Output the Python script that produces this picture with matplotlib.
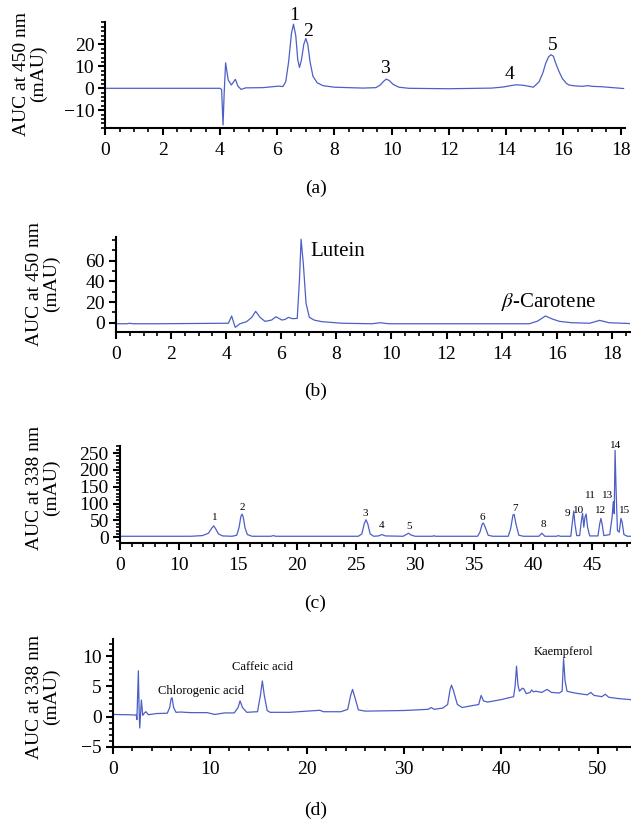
import matplotlib
matplotlib.use("Agg")
import matplotlib.pyplot as plt
from matplotlib.ticker import MultipleLocator

plt.rcParams['font.family'] = ['Liberation Serif', 'DejaVu Serif']
plt.rcParams['mathtext.fontset'] = 'stix'
plt.rcParams['axes.linewidth'] = 1.5

line_color = '#4d5fc6'

# (a) carotenoid chromatogram, 450 nm
a_time = [0, 2, 4.0, 4.06, 4.11, 4.15, 4.2, 4.29, 4.4, 4.54, 4.63, 4.74, 4.9, 5.5, 5.9, 6.05,
          6.2, 6.3, 6.4, 6.5, 6.57, 6.65, 6.72, 6.78, 6.85, 6.93, 7.0, 7.07, 7.15, 7.25, 7.4,
          7.6, 8.0, 9.0, 9.45, 9.6, 9.72, 9.81, 9.92, 10.05, 10.25, 10.6, 12.0, 13.5, 13.9,
          14.15, 14.35, 14.58, 14.8, 14.95, 15.15, 15.28, 15.38, 15.48, 15.56, 15.65, 15.73,
          15.85, 15.96, 16.1, 16.19, 16.4, 16.65, 16.86, 17.0, 17.35, 18.1]
a_signal = [0, 0, 0, -0.5, -16.7, -2, 11.6, 3.8, 1.5, 4.1, 1.0, -0.5, 0.2, 0.3, 0.8, 1.0,
            0.8, 3, 12, 25, 29.2, 24, 13, 9.5, 13, 20, 22.7, 20, 12, 5.5, 2.5,
            1.2, 0.5, 0.1, 0.3, 1.5, 3.2, 4.2, 3.5, 1.8, 0.5, 0, -0.2, 0.1, 0.6,
            1.2, 1.6, 1.4, 0.9, 0.5, 3, 7, 11.4, 14.3, 15.3, 14.6, 11.4,
            7.5, 4.5, 2.3, 1.5, 1.1, 0.9, 1.2, 0.9, 0.7, -0.1]
a_peaks = ['1', '2', '3', '4', '5']
a_peak_x = [6.59, 7.07, 9.76, 14.1, 15.64]
a_peak_y = [33.3, 25.7, 9.1, 6.5, 19.7]

# (b) lutein / beta-carotene, 450 nm
b_time = [0, 0.4, 0.5, 0.6, 1.5, 4.08, 4.2, 4.28, 4.33, 4.5, 4.74, 4.93, 5.07, 5.23, 5.41,
          5.65, 5.81, 6.02, 6.14, 6.26, 6.41, 6.58, 6.66, 6.72, 6.8, 6.9, 7.02, 7.2, 7.48,
          8.2, 9.3, 9.6, 9.9, 12, 15.0, 15.3, 15.59, 15.85, 16.1, 16.54, 17.2, 17.56, 17.9, 18.66]
b_signal = [-1, -1, -0.5, -1, -1, -0.5, 6.5, -0.5, -4.5, -1, 1, 5.2, 11, 5.2, 1.3,
            2.6, 5.8, 2.6, 3.2, 5.2, 3.9, 4.2, 41, 80.7, 57.5, 18.8, 5.2, 2.5, 1,
            -0.5, -1, 0, -1, -1, -1, 1.5, 6.5, 3.5, 1.3, 0, -0.5, 2.3, 0, -0.8]
b_names = ['Lutein', r'$\it{\beta}$-Carotene']
b_name_x = [8.04, 15.7]
b_name_y = [68.7, 20.3]

# (c) phenolics, 338 nm (axis labelled from 0 at the 5 min position)
c_time = [5.0, 11.0, 12.0, 12.5, 12.8, 12.95, 13.1, 13.35, 13.7, 14.5, 14.9, 15.1, 15.25,
          15.35, 15.45, 15.6, 15.8, 16.2, 17.8, 18.0, 18.2, 25.2, 25.5, 25.7, 25.85, 26.0,
          26.2, 26.5, 26.9, 27.2, 27.5, 29.0, 29.3, 29.45, 29.65, 30.0, 31.5, 31.6, 31.7,
          35.3, 35.5, 35.7, 35.8, 35.95, 36.2, 36.6, 37.9, 38.1, 38.3, 38.4, 38.55, 38.8,
          39.2, 40.5, 40.75, 41.0, 42.0, 42.15, 42.3, 43.2, 43.35, 43.45, 43.55, 43.7,
          43.95, 44.1, 44.2, 44.3, 44.4, 44.5, 44.62, 44.8, 45.5, 45.65, 45.75, 45.85,
          46.0, 46.5, 46.7, 46.8, 46.88, 46.95, 47.03, 47.15, 47.3, 47.45, 47.55, 47.7,
          48.0, 48.4]
c_signal = [3, 3, 5, 12, 28, 34, 26, 10, 4, 3, 6, 30, 62,
            69, 60, 28, 8, 3, 3, 5, 3, 3, 10, 40, 52, 40,
            10, 3, 4, 8, 4, 3, 9, 12, 7, 3, 3, 5, 3,
            3, 15, 40, 42, 30, 6, 3, 3, 25, 66, 68, 40, 6,
            3, 3, 12, 3, 3, 5, 3, 3, 50, 78, 40, 5,
            5, 50, 71, 30, 60, 69, 30, 4, 4, 40, 56, 40,
            5, 8, 60, 106, 70, 258, 150, 20, 15, 56, 45, 8,
            3, 3]
c_peaks = ['1', '2', '3', '4', '5', '6', '7', '8', '9', '10', '11', '12', '13', '14', '15']
c_peak_x = [13.0, 15.35, 25.75, 27.2, 29.5, 35.7, 38.5, 40.87, 42.9, 43.87, 44.9, 45.74,
            46.3, 46.96, 47.75]
c_peak_y = [58, 88, 71, 35, 32, 60, 86, 37, 71, 81, 124, 81, 124, 273, 81]
c_tick_pos = [5, 10, 15, 20, 25, 30, 35, 40, 45]
c_tick_lab = ['0', '10', '15', '20', '25', '30', '35', '40', '45']

# (d) sample extract, 338 nm
d_time = [0, 1.5, 2.4, 2.47, 2.62, 2.7, 2.76, 2.85, 2.93, 3.07, 3.25, 3.4, 3.65, 4.5, 5.6,
          5.85, 6.0, 6.1, 6.25, 6.5, 7.0, 7.45, 8.0, 9.7, 10.5, 11.5, 12.5, 12.9, 13.1, 13.35,
          13.8, 14.3, 14.9, 15.2, 15.4, 15.6, 15.9, 16.2, 18.2, 20.0, 21.0, 21.3, 21.7, 23.5,
          24.2, 24.5, 24.7, 24.9, 25.3, 26.0, 30.0, 32.5, 32.8, 33.1, 34.0, 34.5, 34.75, 34.9,
          35.1, 35.5, 36.0, 37.0, 37.7, 37.95, 38.2, 38.6, 40.0, 41.3, 41.45, 41.6, 41.75,
          41.9, 42.2, 42.35, 42.6, 43.0, 43.15, 43.35, 43.6, 44.2, 44.75, 45.2, 46.0, 46.3,
          46.45, 46.6, 46.8, 47.3, 48.0, 48.9, 49.25, 49.6, 50.4, 50.75, 51.1, 52.0, 53.4]
d_signal = [0.35, 0.3, 0.25, -0.5, 7.6, 1, -1.9, 0.5, 2.75, 0.2, 0.6, 0.8, 0.3, 0.5, 0.55,
            1.5, 3.0, 3.1, 1.5, 0.7, 0.75, 0.7, 0.65, 0.65, 0.35, 0.6, 0.6, 1.5, 2.6, 1.5,
            0.7, 0.75, 0.8, 3.5, 5.9, 3.5, 1.0, 0.7, 0.7, 0.9, 1.0, 1.05, 0.8, 0.8,
            1.2, 3.5, 4.5, 3.4, 1.1, 0.9, 1.0, 1.2, 1.5, 1.2, 1.4, 2.0, 4.5, 5.2,
            4.3, 2.0, 1.5, 1.8, 2.0, 3.5, 2.6, 2.4, 2.8, 3.3, 5.0, 8.35, 5.2,
            4.2, 4.7, 4.6, 3.8, 4.0, 4.4, 4.1, 4.2, 4.0, 4.5, 4.0, 3.9, 4.2,
            9.6, 6.0, 4.2, 4.0, 3.8, 3.6, 4.0, 3.5, 3.3, 3.7, 3.2, 3.0, 2.8]
d_names = ['Chlorogenic acid', 'Caffeic acid', 'Kaempferol']
d_name_x = [9.07, 15.4, 46.4]
d_name_y = [4.2, 8.2, 10.66]

tick_size = 14
label_size = 14


def style_axis(ax):
    ax.spines['top'].set_visible(False)
    ax.spines['right'].set_visible(False)
    ax.tick_params(which='major', direction='out', length=5, width=1.5,
                   labelsize=tick_size, pad=3)
    ax.tick_params(which='minor', direction='out', length=3, width=1.2)
    ax.tick_params(axis='x', pad=5)


def add_ylabel(x, y, text):
    fig.text(x, y, text, rotation=90, fontsize=label_size, ha='center', va='center',
             multialignment='center', linespacing=0.95)


fig = plt.figure(figsize=(6.31, 8.22), dpi=100)

# panel (a)
ax = fig.add_axes([0.167, 0.8445, 0.8235, 0.129])
ax.plot(a_time, a_signal, color=line_color, lw=0.9)
ax.set_xlim(0, 18.15)
ax.set_ylim(-18, 30.3)
ax.set_xticks(range(0, 19, 2))
ax.set_yticks([-10, 0, 10, 20])
ax.xaxis.set_minor_locator(MultipleLocator(0.5))
ax.yaxis.set_minor_locator(MultipleLocator(2))
style_axis(ax)
for lab, x, y in zip(a_peaks, a_peak_x, a_peak_y):
    ax.text(x, y, lab, fontsize=14, ha='center', va='center', clip_on=False)
add_ylabel(0.048, 0.910, 'AUC at 450 nm\n(mAU)')
fig.text(0.5, 1 - 188 / 822, '(a)', fontsize=14, ha='center', va='center')

# panel (b)
ax = fig.add_axes([0.1838, 0.5957, 0.8146, 0.1163])
ax.plot(b_time, b_signal, color=line_color, lw=0.9)
ax.set_xlim(0, 18.66)
ax.set_ylim(-9.3, 83.2)
ax.set_xticks(range(0, 19, 2))
ax.set_yticks([0, 20, 40, 60])
ax.xaxis.set_minor_locator(MultipleLocator(0.5))
ax.yaxis.set_minor_locator(MultipleLocator(10))
style_axis(ax)
for lab, x, y in zip(b_names, b_name_x, b_name_y):
    ax.text(x, y, lab, fontsize=15, ha='center', va='center')
add_ylabel(0.068, 0.655, 'AUC at 450 nm\n(mAU)')
fig.text(0.5, 1 - 391 / 822, '(b)', fontsize=14, ha='center', va='center')

# panel (c)
ax = fig.add_axes([0.190, 0.339, 0.81, 0.1188])
ax.plot(c_time, c_signal, color=line_color, lw=0.9)
ax.set_xlim(5, 48.3)
ax.set_ylim(-18, 272)
ax.set_xticks(c_tick_pos)
ax.set_xticklabels(c_tick_lab)
ax.set_yticks([0, 50, 100, 150, 200, 250])
ax.xaxis.set_minor_locator(MultipleLocator(1))
ax.yaxis.set_minor_locator(MultipleLocator(10))
style_axis(ax)
for lab, x, y in zip(c_peaks, c_peak_x, c_peak_y):
    ax.text(x, y, lab, fontsize=8, ha='center', va='center', clip_on=False)
add_ylabel(0.068, 1 - 488 / 822, 'AUC at 338 nm\n(mAU)')
fig.text(0.5, 1 - 603 / 822, '(c)', fontsize=14, ha='center', va='center')

# panel (d)
ax = fig.add_axes([0.179, 0.0916, 0.821, 0.1306])
ax.plot(d_time, d_signal, color=line_color, lw=0.9)
ax.set_xlim(0, 53.4)
ax.set_ylim(-5, 12.8)
ax.set_xticks([0, 10, 20, 30, 40, 50])
ax.set_yticks([-5, 0, 5, 10])
ax.xaxis.set_minor_locator(MultipleLocator(2))
ax.yaxis.set_minor_locator(MultipleLocator(1))
style_axis(ax)
for lab, x, y in zip(d_names, d_name_x, d_name_y):
    ax.text(x, y, lab, fontsize=9, ha='center', va='center')
add_ylabel(0.068, 1 - 697 / 822, 'AUC at 338 nm\n(mAU)')
fig.text(0.5, 1 - 810 / 822, '(d)', fontsize=14, ha='center', va='center')

fig.savefig('out.png', dpi=100)
